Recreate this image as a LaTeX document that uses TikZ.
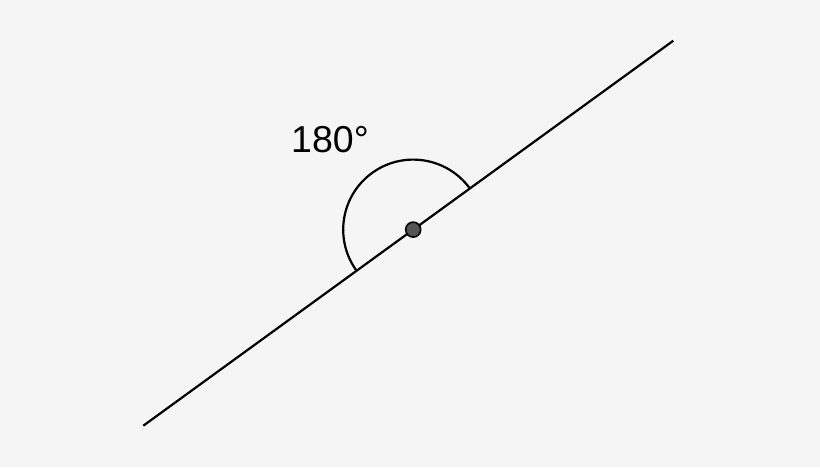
\documentclass[tikz,border=0pt]{standalone}
\usepackage{fontspec}
\setmainfont{Liberation Sans}
\definecolor{bg}{HTML}{F5F5F5}
\definecolor{dotfill}{HTML}{555555}
\begin{document}
\begin{tikzpicture}[x=1pt,y=-1pt,
  ray/.style={line width=2.2pt,black},
  anglearc/.style={line width=2.2pt,black},
  vertex/.style={circle,draw=black,line width=1.6pt,fill=dotfill,minimum size=15pt,inner sep=0pt},
  lbl/.style={font=\fontsize{37.5}{40}\selectfont,inner sep=0pt,anchor=base west}]
\fill[bg] (0,0) rectangle (820,467);
\useasboundingbox (0,0) rectangle (820,467);
\coordinate (A) at (143.3,425.7);
\coordinate (B) at (673.3,40.7);
\coordinate (O) at (413.2,229.6);
\draw[ray] (A) -- (B);
\draw[anglearc] (O) ++(-36:70) arc[start angle=-36,end angle=-216,radius=70];
\node[vertex] (V) at (O) {};
\node[lbl] (L) at (291,152) {180°};
\end{tikzpicture}
\end{document}
